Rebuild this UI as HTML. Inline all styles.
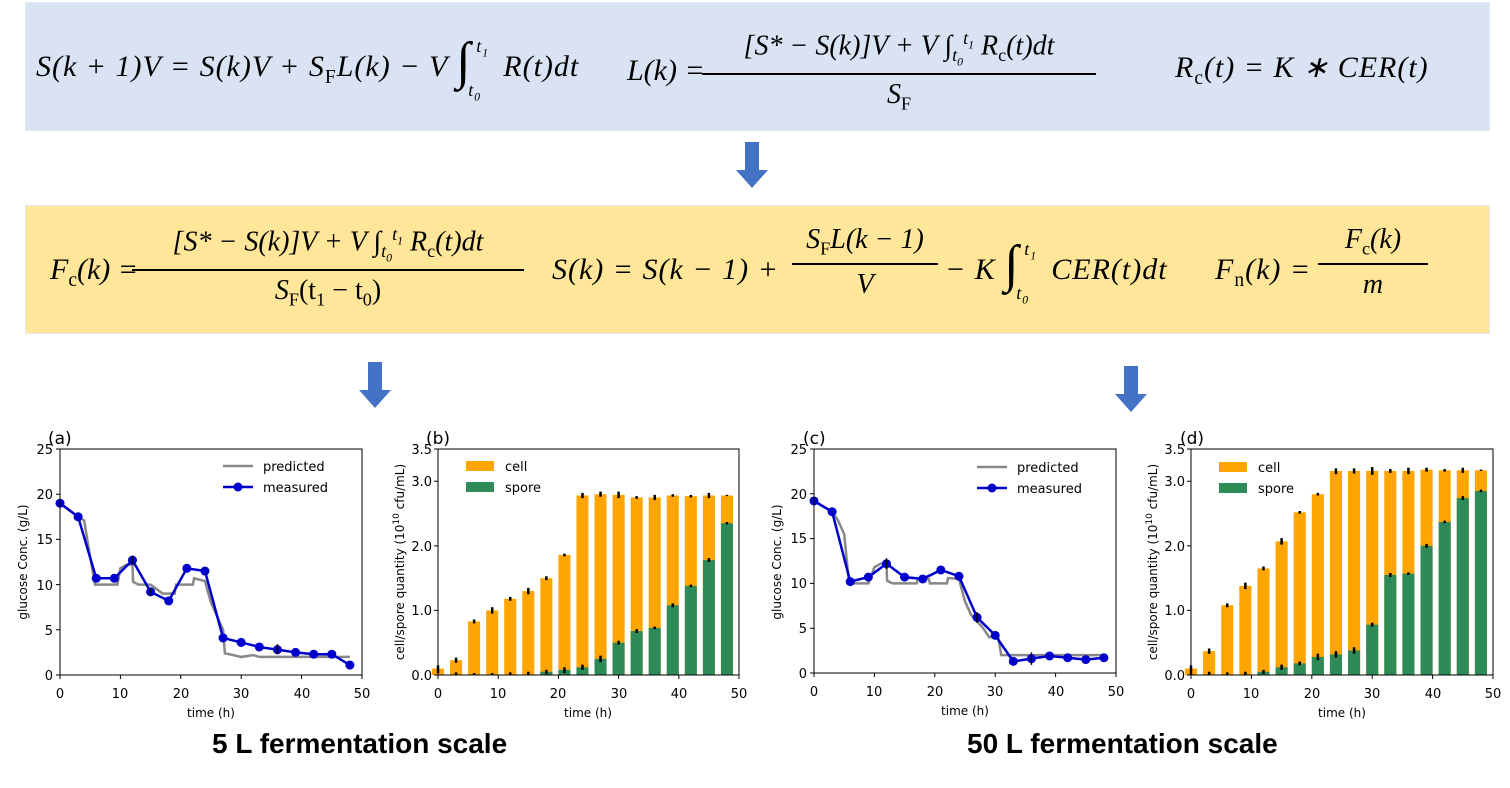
<!DOCTYPE html>
<html><head><meta charset="utf-8"><style>
body{margin:0;width:1510px;height:788px;background:#fff;position:relative;overflow:hidden;font-family:"Liberation Serif",serif}
.box{position:absolute;left:25px;width:1463px;height:127px;border:1px solid #e0e8f4}
.f{position:absolute;font-family:"Liberation Serif",serif;font-style:italic;font-size:30px;white-space:nowrap;color:#000;letter-spacing:1px}
.fr{position:absolute;text-align:center;font-family:"Liberation Serif",serif;font-style:italic;font-size:28px;white-space:nowrap}
.fr .n{border-bottom:2px solid #000;padding:0 2px 3px}
.fr .d{padding-top:4px}
.up{font-style:normal}
sub,sup{font-size:65%}
.ig{display:inline-block;position:relative;width:30px;height:30px;vertical-align:middle}
.ig .s{position:absolute;left:0;top:-22px;font-size:52px;font-style:normal}
.ig .hi{position:absolute;left:20px;top:-18px;font-size:18px}
.ig .lo{position:absolute;left:12px;top:26px;font-size:18px}
.ttl{position:absolute;font-family:"Liberation Sans",sans-serif;font-weight:bold;font-size:28px}
</style></head><body>
<div class="box" style="top:2px;background:#dae3f3"></div>
<div class="box" style="top:205px;background:#ffe699"></div>

<div class="f" style="left:36px;top:50px">S(k + 1)V = S(k)V + S<sub class="up">F</sub>L(k) − V <span class="ig"><span class="s">∫</span><span class="hi">t<sub>1</sub></span><span class="lo">t<sub>0</sub></span></span>&nbsp;&nbsp;R(t)dt</div>
<div class="f" style="left:627px;top:54px;letter-spacing:0">L(k) =</div>
<div class="fr" style="left:702px;top:28px;width:394px"><div class="n">[S* − S(k)]V + V ∫<sub>t<sub>0</sub></sub><sup>t<sub>1</sub></sup> R<sub class="up">c</sub>(t)dt</div><div class="d">S<sub class="up">F</sub></div></div>
<div class="f" style="left:1175px;top:50px">R<sub class="up">c</sub>(t) = K ∗ CER(t)</div>

<div class="f" style="left:50px;top:253px;letter-spacing:0">F<sub class="up">c</sub>(k) =</div>
<div class="fr" style="left:132px;top:224px;width:392px"><div class="n">[S* − S(k)]V + V ∫<sub>t<sub>0</sub></sub><sup>t<sub>1</sub></sup> R<sub class="up">c</sub>(t)dt</div><div class="d">S<sub class="up">F</sub><span class="up">(t<sub>1</sub> − t<sub>0</sub>)</span></div></div>
<div class="f" style="left:552px;top:253px">S(k) = S(k − 1) +</div>
<div class="fr" style="left:792px;top:224px;width:146px"><div class="n">S<sub class="up">F</sub>L(k − 1)</div><div class="d">V</div></div>
<div class="f" style="left:945px;top:253px">− K <span class="ig"><span class="s">∫</span><span class="hi">t<sub>1</sub></span><span class="lo">t<sub>0</sub></span></span>&nbsp;&nbsp;CER(t)dt</div>
<div class="f" style="left:1215px;top:253px">F<sub class="up">n</sub>(k) =</div>
<div class="fr" style="left:1318px;top:224px;width:110px"><div class="n">F<sub class="up">c</sub>(k)</div><div class="d">m</div></div>

<svg width="1510" height="788" style="position:absolute;left:0;top:0" font-family="DejaVu Sans, sans-serif" font-size="13">
<g fill="#4472c4">
<path d="M745 142h14v28h9l-16 18l-16-18h9z"/>
<path d="M368 362h14v28h9l-16 18l-16-18h9z"/>
<path d="M1124 366h14v28h9l-16 18l-16-18h9z"/>
</g>

<!-- (a) -->
<g transform="translate(60,675) scale(6.04,-9.04)">
<polyline vector-effect="non-scaling-stroke" fill="none" stroke="#888" stroke-width="2.5" points="0,19 3,17.5 4,17.1 5,13 5.8,10 9.5,10 10,11.8 11,12.2 12,12.2 12.1,10.3 13,10 15,10 16,9.5 17,9 19,9 19.2,10 22,10 22.2,10.7 24,10.4 25,8 26,6.5 27,5 27.3,2.4 28,2.3 30,2 32,2.2 33,2 48,2"/>
<polyline vector-effect="non-scaling-stroke" fill="none" stroke="#0000cc" stroke-width="2.5" points="0,19 3,17.5 6,10.7 9,10.7 12,12.7 15,9.2 18,8.2 21,11.8 24,11.5 27,4.1 30,3.6 33,3.1 36,2.8 39,2.5 42,2.3 45,2.3 48,1.1"/>
<g fill="#0000cc"><ellipse cx="0" cy="19" rx=".75" ry=".5"/><ellipse cx="3" cy="17.5" rx=".75" ry=".5"/><ellipse cx="6" cy="10.7" rx=".75" ry=".5"/><ellipse cx="9" cy="10.7" rx=".75" ry=".5"/><ellipse cx="12" cy="12.7" rx=".75" ry=".5"/><ellipse cx="15" cy="9.2" rx=".75" ry=".5"/><ellipse cx="18" cy="8.2" rx=".75" ry=".5"/><ellipse cx="21" cy="11.8" rx=".75" ry=".5"/><ellipse cx="24" cy="11.5" rx=".75" ry=".5"/><ellipse cx="27" cy="4.1" rx=".75" ry=".5"/><ellipse cx="30" cy="3.6" rx=".75" ry=".5"/><ellipse cx="33" cy="3.1" rx=".75" ry=".5"/><ellipse cx="36" cy="2.8" rx=".75" ry=".5"/><ellipse cx="39" cy="2.5" rx=".75" ry=".5"/><ellipse cx="42" cy="2.3" rx=".75" ry=".5"/><ellipse cx="45" cy="2.3" rx=".75" ry=".5"/><ellipse cx="48" cy="1.1" rx=".75" ry=".5"/></g>
<path vector-effect="non-scaling-stroke" stroke="#000" stroke-width="1.5" d="M12 12.2V13.2M36 2.3V3.4M15 8.8V9.6"/>
</g>
<rect x="60" y="449" width="302" height="226" fill="none" stroke="#000" stroke-width="1"/>
<path stroke="#000" d="M60 675v4M120.4 675v4M180.8 675v4M241.2 675v4M301.6 675v4M362 675v4M56 675h4M56 629.8h4M56 584.6h4M56 539.4h4M56 494.2h4M56 449h4"/>
<g text-anchor="end"><text x="53" y="680">0</text><text x="53" y="635">5</text><text x="53" y="590">10</text><text x="53" y="544">15</text><text x="53" y="499">20</text><text x="53" y="454">25</text></g>
<g text-anchor="middle"><text x="60" y="698">0</text><text x="120" y="698">10</text><text x="181" y="698">20</text><text x="241" y="698">30</text><text x="302" y="698">40</text><text x="362" y="698">50</text><text x="211" y="717" font-size="12">time (h)</text></g>
<text transform="translate(27,562) rotate(-90)" text-anchor="middle" font-size="12">glucose Conc.  (g/L)</text>
<text x="48" y="444" font-size="17">(a)</text>
<line x1="223" y1="466" x2="253" y2="466" stroke="#888" stroke-width="2.5"/><text x="263" y="471">predicted</text>
<line x1="223" y1="487" x2="253" y2="487" stroke="#0000cc" stroke-width="2.5"/><circle cx="238" cy="487" r="4.5" fill="#0000cc"/><text x="263" y="492">measured</text>

<!-- (b) -->
<g transform="translate(438,675) scale(6.02,-64.57)">
<g fill="#ffa500"><rect x="-1" y="0" width="2" height="0.1"/><rect x="2" y="0" width="2" height="0.23"/><rect x="5" y="0" width="2" height="0.83"/><rect x="8" y="0" width="2" height="1.0"/><rect x="11" y="0" width="2" height="1.18"/><rect x="14" y="0" width="2" height="1.3"/><rect x="17" y="0" width="2" height="1.5"/><rect x="20" y="0" width="2" height="1.86"/><rect x="23" y="0" width="2" height="2.78"/><rect x="26" y="0" width="2" height="2.8"/><rect x="29" y="0" width="2" height="2.79"/><rect x="32" y="0" width="2" height="2.75"/><rect x="35" y="0" width="2" height="2.75"/><rect x="38" y="0" width="2" height="2.78"/><rect x="41" y="0" width="2" height="2.77"/><rect x="44" y="0" width="2" height="2.78"/><rect x="47" y="0" width="2" height="2.78"/></g>
<g fill="#2e8b57"><rect x="17" y="0" width="2" height="0.05"/><rect x="20" y="0" width="2" height="0.08"/><rect x="23" y="0" width="2" height="0.12"/><rect x="26" y="0" width="2" height="0.25"/><rect x="29" y="0" width="2" height="0.5"/><rect x="32" y="0" width="2" height="0.68"/><rect x="35" y="0" width="2" height="0.73"/><rect x="38" y="0" width="2" height="1.08"/><rect x="41" y="0" width="2" height="1.38"/><rect x="44" y="0" width="2" height="1.78"/><rect x="47" y="0" width="2" height="2.35"/></g>
<path vector-effect="non-scaling-stroke" stroke="#000" stroke-width="2.5" d="M0 .03V.15M3 .19V.27M6 .8V.86M9 .95V1.05M12 1.15V1.21M15 1.25V1.35M18 1.47V1.53M21 1.84V1.88M24 2.74V2.82M27 2.76V2.84M30 2.74V2.84M33 2.73V2.77M36 2.71V2.79M39 2.76V2.8M42 2.75V2.79M45 2.74V2.82M48 2.77V2.79M24 .08V.16M27 .2V.3M30 .47V.53M33 .65V.71M36 .71V.75M39 1.05V1.11M42 1.36V1.4M45 1.75V1.81M48 2.33V2.37M3 0V.04M6 0V.03M9 0V.03M12 0V.04M15 0V.05M18 .02V.08M21 .03V.12"/>
</g>
<rect x="438" y="449" width="301" height="226" fill="none" stroke="#000"/>
<path stroke="#000" d="M438 675v4M498.2 675v4M558.4 675v4M618.6 675v4M678.8 675v4M739 675v4M434 675h4M434 610.4h4M434 545.9h4M434 481.3h4M434 449h4"/>
<g text-anchor="end"><text x="432" y="680">0.0</text><text x="432" y="615">1.0</text><text x="432" y="551">2.0</text><text x="432" y="486">3.0</text><text x="432" y="454">3.5</text></g>
<g text-anchor="middle"><text x="438" y="698">0</text><text x="498" y="698">10</text><text x="558" y="698">20</text><text x="619" y="698">30</text><text x="679" y="698">40</text><text x="739" y="698">50</text><text x="588" y="717" font-size="12">time (h)</text></g>
<text transform="translate(404,562) rotate(-90)" text-anchor="middle" font-size="12">cell/spore quantity (10<tspan dy="-5" font-size="9">10</tspan><tspan dy="5"> cfu/mL)</tspan></text>
<text x="426" y="444" font-size="17">(b)</text>
<rect x="466" y="461" width="28" height="10" fill="#ffa500"/><text x="505" y="471">cell</text>
<rect x="466" y="482" width="28" height="10" fill="#2e8b57"/><text x="505" y="492">spore</text>

<!-- (c) -->
<g transform="translate(814,673) scale(6.04,-8.96)">
<polyline vector-effect="non-scaling-stroke" fill="none" stroke="#888" stroke-width="2.5" points="0,19.2 3,18 4,17 5,15.5 5.8,10 9,10 10,11.8 11,12.2 12,12.2 12.1,10.3 13,10 17,10 17.2,10.5 19,10.5 19.2,10 22,10 22.2,10.6 24,10.5 25,8 26,6.5 28,5 29,4 30.5,4 31,2 48,2"/>
<polyline vector-effect="non-scaling-stroke" fill="none" stroke="#0000cc" stroke-width="2.5" points="0,19.2 3,18 6,10.2 9,10.7 12,12.2 15,10.7 18,10.5 21,11.5 24,10.8 27,6.2 30,4.2 33,1.3 36,1.6 39,1.9 42,1.7 45,1.5 48,1.7"/>
<g fill="#0000cc"><ellipse cx="0" cy="19.2" rx=".75" ry=".5"/><ellipse cx="3" cy="18" rx=".75" ry=".5"/><ellipse cx="6" cy="10.2" rx=".75" ry=".5"/><ellipse cx="9" cy="10.7" rx=".75" ry=".5"/><ellipse cx="12" cy="12.2" rx=".75" ry=".5"/><ellipse cx="15" cy="10.7" rx=".75" ry=".5"/><ellipse cx="18" cy="10.5" rx=".75" ry=".5"/><ellipse cx="21" cy="11.5" rx=".75" ry=".5"/><ellipse cx="24" cy="10.8" rx=".75" ry=".5"/><ellipse cx="27" cy="6.2" rx=".75" ry=".5"/><ellipse cx="30" cy="4.2" rx=".75" ry=".5"/><ellipse cx="33" cy="1.3" rx=".75" ry=".5"/><ellipse cx="36" cy="1.6" rx=".75" ry=".5"/><ellipse cx="39" cy="1.9" rx=".75" ry=".5"/><ellipse cx="42" cy="1.7" rx=".75" ry=".5"/><ellipse cx="45" cy="1.5" rx=".75" ry=".5"/><ellipse cx="48" cy="1.7" rx=".75" ry=".5"/></g>
<path vector-effect="non-scaling-stroke" stroke="#000" stroke-width="1.5" d="M12 11.6V12.8M36 0.9V2.3M27 5.6V6.8"/>
</g>
<rect x="814" y="449" width="302" height="224" fill="none" stroke="#000"/>
<path stroke="#000" d="M814 673v4M874.4 673v4M934.8 673v4M995.2 673v4M1055.6 673v4M1116 673v4M810 673h4M810 628.2h4M810 583.4h4M810 538.6h4M810 493.8h4M810 449h4"/>
<g text-anchor="end"><text x="807" y="678">0</text><text x="807" y="633">5</text><text x="807" y="588">10</text><text x="807" y="543">15</text><text x="807" y="499">20</text><text x="807" y="454">25</text></g>
<g text-anchor="middle"><text x="814" y="696">0</text><text x="874" y="696">10</text><text x="935" y="696">20</text><text x="995" y="696">30</text><text x="1056" y="696">40</text><text x="1116" y="696">50</text><text x="965" y="715" font-size="12">time (h)</text></g>
<text transform="translate(781,562) rotate(-90)" text-anchor="middle" font-size="12">glucose Conc.  (g/L)</text>
<text x="803" y="444" font-size="17">(c)</text>
<line x1="977" y1="467" x2="1007" y2="467" stroke="#888" stroke-width="2.5"/><text x="1017" y="472">predicted</text>
<line x1="977" y1="488" x2="1007" y2="488" stroke="#0000cc" stroke-width="2.5"/><circle cx="992" cy="488" r="4.5" fill="#0000cc"/><text x="1017" y="493">measured</text>

<!-- (d) -->
<g transform="translate(1191,675) scale(6.04,-64.57)">
<g fill="#ffa500"><rect x="-1" y="0" width="2" height="0.1"/><rect x="2" y="0" width="2" height="0.37"/><rect x="5" y="0" width="2" height="1.08"/><rect x="8" y="0" width="2" height="1.38"/><rect x="11" y="0" width="2" height="1.65"/><rect x="14" y="0" width="2" height="2.07"/><rect x="17" y="0" width="2" height="2.52"/><rect x="20" y="0" width="2" height="2.8"/><rect x="23" y="0" width="2" height="3.16"/><rect x="26" y="0" width="2" height="3.16"/><rect x="29" y="0" width="2" height="3.16"/><rect x="32" y="0" width="2" height="3.16"/><rect x="35" y="0" width="2" height="3.16"/><rect x="38" y="0" width="2" height="3.18"/><rect x="41" y="0" width="2" height="3.17"/><rect x="44" y="0" width="2" height="3.17"/><rect x="47" y="0" width="2" height="3.17"/></g>
<g fill="#2e8b57"><rect x="11" y="0" width="2" height="0.05"/><rect x="14" y="0" width="2" height="0.12"/><rect x="17" y="0" width="2" height="0.18"/><rect x="20" y="0" width="2" height="0.28"/><rect x="23" y="0" width="2" height="0.32"/><rect x="26" y="0" width="2" height="0.38"/><rect x="29" y="0" width="2" height="0.78"/><rect x="32" y="0" width="2" height="1.55"/><rect x="35" y="0" width="2" height="1.57"/><rect x="38" y="0" width="2" height="2.0"/><rect x="41" y="0" width="2" height="2.37"/><rect x="44" y="0" width="2" height="2.74"/><rect x="47" y="0" width="2" height="2.85"/></g>
<path vector-effect="non-scaling-stroke" stroke="#000" stroke-width="2.5" d="M0 .01V.15M3 .33V.41M6 1.05V1.11M9 1.33V1.43M12 1.62V1.68M15 2.02V2.12M18 2.5V2.54M21 2.78V2.82M24 3.11V3.2M27 3.12V3.2M30 3.1V3.22M33 3.13V3.19M36 3.11V3.21M39 3.15V3.21M42 3.15V3.19M45 3.13V3.21M48 3.16V3.18M15 .08V.16M18 .15V.21M21 .23V.33M24 .27V.37M27 .33V.43M30 .75V.81M33 1.52V1.58M36 1.55V1.59M39 1.97V2.03M42 2.35V2.39M45 2.71V2.77M48 2.83V2.87M3 0V.05M6 0V.04M9 0V.05M12 .02V.08"/>
</g>
<rect x="1191" y="449" width="302" height="226" fill="none" stroke="#000"/>
<path stroke="#000" d="M1191 675v4M1251.4 675v4M1311.8 675v4M1372.2 675v4M1432.6 675v4M1493 675v4M1187 675h4M1187 610.4h4M1187 545.9h4M1187 481.3h4M1187 449h4"/>
<g text-anchor="end"><text x="1185" y="680">0.0</text><text x="1185" y="615">1.0</text><text x="1185" y="551">2.0</text><text x="1185" y="486">3.0</text><text x="1185" y="454">3.5</text></g>
<g text-anchor="middle"><text x="1191" y="698">0</text><text x="1251" y="698">10</text><text x="1312" y="698">20</text><text x="1372" y="698">30</text><text x="1433" y="698">40</text><text x="1493" y="698">50</text><text x="1342" y="717" font-size="12">time (h)</text></g>
<text transform="translate(1157,562) rotate(-90)" text-anchor="middle" font-size="12">cell/spore quantity (10<tspan dy="-5" font-size="9">10</tspan><tspan dy="5"> cfu/mL)</tspan></text>
<text x="1180" y="444" font-size="17">(d)</text>
<rect x="1219" y="462" width="28" height="10" fill="#ffa500"/><text x="1258" y="472">cell</text>
<rect x="1219" y="483" width="28" height="10" fill="#2e8b57"/><text x="1258" y="493">spore</text>
</svg>

<div class="ttl" style="left:212px;top:728px">5 L fermentation scale</div>
<div class="ttl" style="left:967px;top:728px">50 L fermentation scale</div>
</body></html>
